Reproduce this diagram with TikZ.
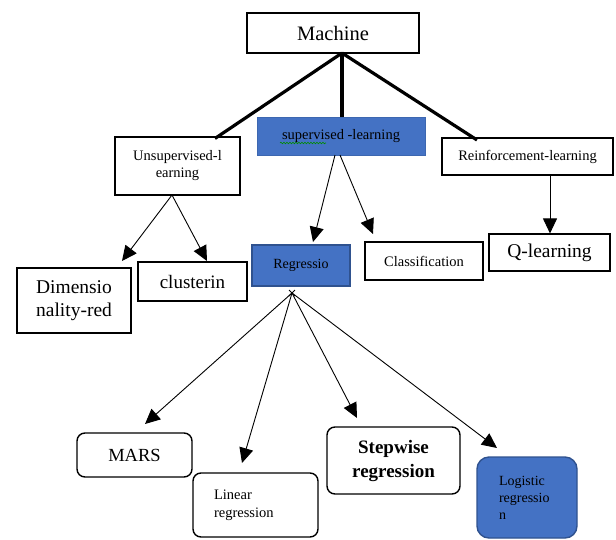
\documentclass[tikz,border=0pt]{standalone}
\usepackage{fontspec}
\setmainfont{Liberation Serif}
\usetikzlibrary{arrows.meta,decorations.pathmorphing}
\definecolor{bluebox}{HTML}{4472C4}
\definecolor{bluedge}{HTML}{2F528F}
\begin{document}
\begin{tikzpicture}[x=1pt,y=-1pt,font=\rmfamily,
  box/.style={draw=black,line width=1.1pt,fill=white,inner sep=2pt,align=center,text=black},
  rbox/.style={box,rounded corners=8pt,line width=1.4pt},
  thickline/.style={line width=3.2pt},
  arr/.style={line width=0.9pt,-{Triangle[length=15pt,width=14pt]}}]
\useasboundingbox (0,0) rectangle (616,539);
\node[box,minimum width=172pt,minimum height=40pt,font=\fontsize{20.5}{22}\selectfont] (mach) at (333,33) {Machine};
\node[box,minimum width=125pt,minimum height=58pt,font=\fontsize{14.5}{17}\selectfont] (uns) at (177.5,166) {Unsupervised-l\\earning};
\node[draw=bluebox!90!black,line width=0.5pt,fill=bluebox,minimum width=168pt,minimum height=38pt,font=\fontsize{14.5}{16}\selectfont,text=black] (sup) at (341,136) {supervised -learning};
\node[box,minimum width=171pt,minimum height=37pt,font=\fontsize{14.5}{16}\selectfont] (rein) at (527.5,156.5) {Reinforcement-learning};
\node[box,minimum width=114pt,minimum height=65pt,font=\fontsize{19.5}{23}\selectfont] (dim) at (74,300.5) {Dimensio\\nality-red};
\node[box,minimum width=109pt,minimum height=39pt,font=\fontsize{19}{20}\selectfont] (clu) at (192.5,281.5) {clusterin};
\node[draw=bluedge,line width=1.2pt,fill=bluebox,minimum width=98pt,minimum height=41pt,font=\fontsize{14}{16}\selectfont,text=black] (reg) at (301,265.5) {Regressio};
\node[box,minimum width=118pt,minimum height=38pt,font=\fontsize{14.5}{16}\selectfont] (cla) at (424,261) {Classification};
\node[box,minimum width=121pt,minimum height=37pt,font=\fontsize{19.5}{20}\selectfont] (ql) at (549.5,252.5) {Q-learning};
\node[rbox,minimum width=115pt,minimum height=44pt,font=\fontsize{18.5}{20}\selectfont] (mars) at (134.5,455) {MARS};
\node[rbox,minimum width=125pt,minimum height=64pt,font=\fontsize{14.5}{18}\selectfont,align=left,text width=83pt,inner xsep=0pt,inner ysep=8pt] (lin) at (255.5,505) {Linear\\regression};
\node[rbox,minimum width=133pt,minimum height=67pt,font=\bfseries\fontsize{19}{24}\selectfont] (step) at (393.5,460.5) {Stepwise\\regression};
\node[draw=bluedge,rounded corners=12pt,line width=1.4pt,fill=bluebox,minimum width=100pt,minimum height=81pt,font=\fontsize{14}{17}\selectfont,align=left,text width=56pt,text=black] (log) at (527,497.5) {Logistic\\regressio\\n};
% spelling underline
\draw[green!55!black,line width=0.6pt,decorate,decoration={snake,amplitude=0.8pt,segment length=3pt}] (280,143) -- (326,143);
% thick lines from Machine
\coordinate (mb) at (342,53);
\draw[thickline] (mb) -- (sup.north -| mb);
\draw[thickline] (mb) -- ([xshift=-2pt,yshift=-2pt]uns.north -| 217,0);
\draw[thickline] (mb) -- (477,140);
% unsupervised arrows
\draw[arr] (172,195) -- (122,261);
\draw[arr] (172,195) -- (207,261);
% supervised arrows
\draw[arr] (335,155) -- (313,242);
\draw[arr] (340,155) -- (373,234);
% reinforcement arrow
\draw[arr] (rein.south -| 550,0) -- (ql.north -| 550,0);
% regression fan
\coordinate (fan) at (292,293);
\draw[line width=0.8pt] (289,290) -- (295,296) (295,290) -- (289,296);
\draw[arr] (fan) -- (145,424);
\draw[arr] (fan) -- (242,463);
\draw[arr] (fan) -- (357,418);
\draw[arr] (fan) -- (497,448);
\end{tikzpicture}
\end{document}
